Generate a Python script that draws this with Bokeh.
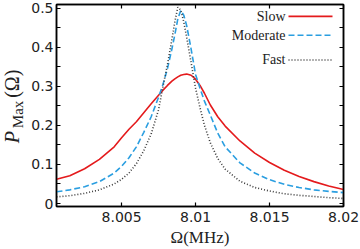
from math import pi
from bokeh.plotting import figure
from bokeh.layouts import row
from bokeh.models import Range1d, FixedTicker, LinearAxis, Label, CustomJSTickFormatter
from bokeh.embed import file_html
from bokeh.resources import INLINE

# ---- data ----
omega = [8.0006, 8.0015, 8.0025, 8.0035, 8.0045, 8.005, 8.0055, 8.006, 8.0065, 8.007,
         8.0075, 8.0078, 8.0081, 8.0084, 8.0086, 8.0088, 8.009, 8.0092, 8.0094, 8.0097,
         8.01, 8.0103, 8.0106, 8.011, 8.0115, 8.012, 8.013, 8.014, 8.015, 8.016,
         8.017, 8.018, 8.019, 8.02]
slow = [0.062, 0.071, 0.089, 0.113, 0.145, 0.168, 0.190, 0.209, 0.232, 0.255,
        0.277, 0.290, 0.302, 0.313, 0.319, 0.324, 0.328, 0.330, 0.331, 0.328,
        0.318, 0.302, 0.282, 0.252, 0.222, 0.198, 0.160, 0.129, 0.105, 0.085,
        0.069, 0.056, 0.045, 0.036]
moderate = [0.030, 0.035, 0.043, 0.056, 0.078, 0.095, 0.117, 0.145, 0.182, 0.222,
            0.272, 0.305, 0.345, 0.395, 0.432, 0.472, 0.494, 0.482, 0.455, 0.395,
            0.330, 0.295, 0.262, 0.226, 0.180, 0.145, 0.104, 0.078, 0.061, 0.049,
            0.041, 0.035, 0.031, 0.028]
fast = [0.017, 0.020, 0.026, 0.035, 0.050, 0.062, 0.078, 0.102, 0.135, 0.178,
        0.240, 0.300, 0.355, 0.420, 0.465, 0.502, 0.495, 0.465, 0.425, 0.360,
        0.295, 0.245, 0.200, 0.155, 0.115, 0.088, 0.057, 0.041, 0.032, 0.025,
        0.021, 0.018, 0.015, 0.013]
series_names = ["Slow", "Moderate", "Fast"]

x_ticks = [8.005, 8.01, 8.015, 8.02]
x_tick_labels = ["8.005", "8.01", "8.015", "8.02"]
y_ticks = [0, 0.1, 0.2, 0.3, 0.4, 0.5]
y_tick_labels = ["0", "0.1", "0.2", "0.3", "0.4", "0.5"]
y_minor_ticks = [0.05, 0.15, 0.25, 0.35, 0.45]

# ---- styling / layout ----
RED, BLUE, GRAY, INK = "#e41a1c", "#2a9ee0", "#3a3a3a", "#222222"
X0, X1 = 8.0006, 8.02
Y0, Y1 = -0.0076, 0.509
W, H = 360, 249
LW = 27            # width of the strip that carries the rotated y-axis title
FW, FH = 287, 204
FL, FT = 56, 4     # pixel position of the frame's left/top edges in the picture


def dx(px):
    return X0 + (px - FL) * (X1 - X0) / FW


def dy(py):
    return Y1 - (py - FT) * (Y1 - Y0) / FH


p = figure(width=W - LW, height=H,
           x_range=Range1d(X0, X1), y_range=Range1d(Y0, Y1),
           output_backend="svg", toolbar_location=None,
           min_border_left=FL - LW, min_border_right=W - FL - FW,
           min_border_top=FT, min_border_bottom=H - FT - FH,
           background_fill_color="white", border_fill_color="white")
p.grid.visible = False
p.outline_line_color = "black"
p.outline_line_width = 1.5

xt = FixedTicker(ticks=x_ticks, minor_ticks=[])
yt = FixedTicker(ticks=y_ticks, minor_ticks=y_minor_ticks)

p.xaxis.ticker = xt
p.xaxis.major_label_overrides = dict(zip(x_ticks, x_tick_labels))
p.yaxis.ticker = yt
p.yaxis.major_label_overrides = dict(zip(y_ticks, y_tick_labels))

for ax in (p.xaxis[0], p.yaxis[0]):
    ax.major_tick_in = 4
    ax.major_tick_out = 0
    ax.minor_tick_in = 4
    ax.minor_tick_out = 0
    ax.axis_line_width = 1.5
    ax.major_tick_line_width = 1.2
    ax.minor_tick_line_width = 1.2
    ax.major_label_text_font = "DejaVu Sans"
    ax.major_label_text_font_size = "14px"
    ax.major_label_text_color = INK
p.xaxis.major_label_standoff = 5
p.yaxis.major_label_standoff = 3

p.xaxis.axis_label = "Ω(MHz)"
p.xaxis.axis_label_text_font = "Liberation Serif"
p.xaxis.axis_label_text_font_style = "normal"
p.xaxis.axis_label_text_font_size = "17px"
p.xaxis.axis_label_text_color = INK
p.xaxis.axis_label_standoff = 3

blank = CustomJSTickFormatter(code="return ''")
for loc, tk in (("right", yt), ("above", xt)):
    ax = LinearAxis(ticker=tk, formatter=blank, major_tick_in=4, major_tick_out=0,
                    minor_tick_in=4, minor_tick_out=0, major_label_standoff=0,
                    axis_line_width=1.5, major_tick_line_width=1.2, minor_tick_line_width=1.2,
                    major_label_text_font_size="1px")
    p.add_layout(ax, loc)

# ---- curves ----
p.line(omega, slow, line_color=RED, line_width=1.6)
p.line(omega, moderate, line_color=BLUE, line_width=1.6, line_dash="6 3")
p.line(omega, fast, line_color=GRAY, line_width=1.6, line_dash="1 2")

# ---- legend (label left of sample) ----
leg_rows = [16, 35, 60]
leg_styles = [dict(line_color=RED, line_dash="solid"),
              dict(line_color=BLUE, line_dash="6 3"),
              dict(line_color=GRAY, line_dash="1 2")]
for name, py, st in zip(series_names, leg_rows, leg_styles):
    p.add_layout(Label(x=dx(285), y=dy(py), text=name, text_align="right",
                       text_baseline="middle", text_font="Liberation Serif",
                       text_font_size="14px", text_color=INK))
    p.line([dx(288), dx(332)], [dy(py), dy(py)], line_width=1.6, **st)

# ---- y axis title P_Max(Ω): a narrow strip left of the plot ----
# the strip's frame is aligned by the row with the main frame (rows FT .. FT+FH)
lab = figure(width=LW, height=H, x_range=Range1d(0, LW),
             y_range=Range1d(H - (FT + FH), H - FT),
             output_backend="svg", toolbar_location=None, min_border=0,
             x_axis_location=None, y_axis_location=None,
             background_fill_color="white", border_fill_color="white")
lab.grid.visible = False
lab.outline_line_color = None
# (text, centre x px, centre y px from top, size, style)
ylab = [("P", 11.5, 138, "20px", "italic"),
        ("Max", 17, 115, "15px", "normal"),
        ("(Ω)", 11.5, 84, "20px", "normal")]
for txt, px, py, fs, style in ylab:
    lab.add_layout(Label(x=px, y=H - py, text=txt, angle=pi / 2, text_align="center",
                         text_baseline="middle", text_font="Liberation Serif",
                         text_font_style=style, text_font_size=fs, text_color=INK))

layout = row(lab, p, spacing=0)
open("out.html", "w").write(file_html(layout, INLINE))
